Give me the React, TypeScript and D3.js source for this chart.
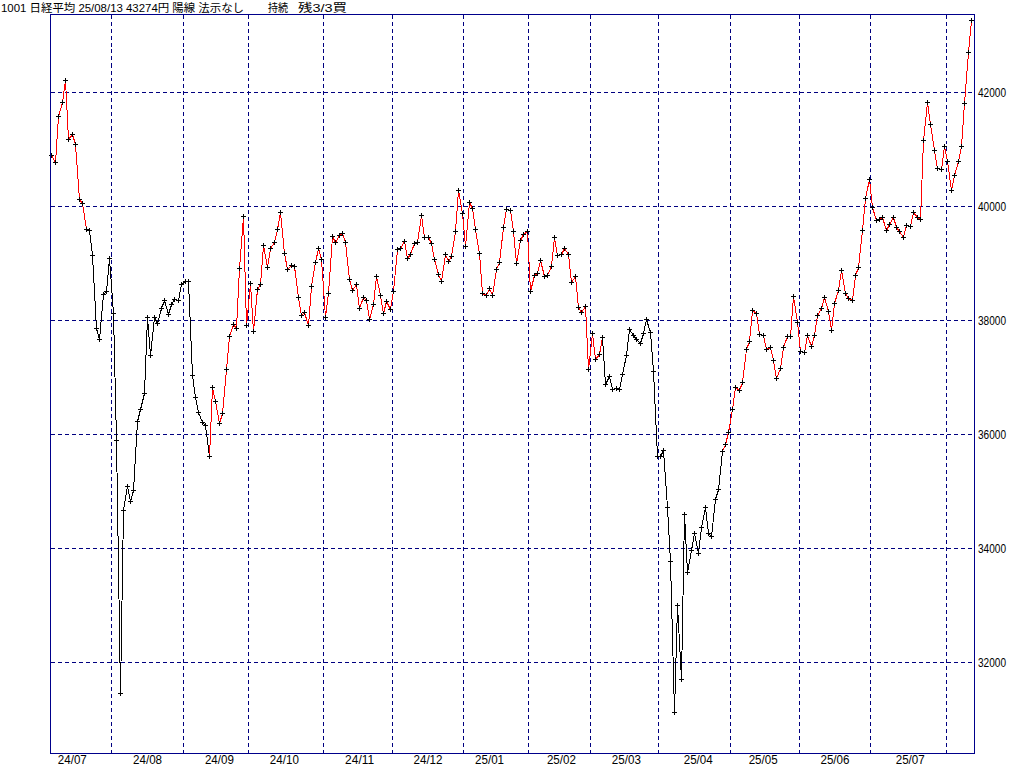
import React from "react";
import * as d3 from "d3";

// Trading days per month (label, days)
const monthLabels = ["24/07","24/08","24/09","24/10","24/11","24/12","25/01","25/02","25/03","25/04","25/05","25/06","25/07","25/08"];
const monthDays = [
  [5,8,9,10,11,12,16,17,18,19,22,23,24,25,26,29,30,31],
  [1,2,5,6,7,8,9,13,14,15,16,19,20,21,22,23,26,27,28,29,30],
  [2,3,4,5,6,9,10,11,12,13,17,18,19,20,24,25,26,27,30],
  [1,2,3,4,7,8,9,10,11,15,16,17,18,21,22,23,24,25,28,29,30,31],
  [1,5,6,7,8,11,12,13,14,15,18,19,20,21,22,25,26,27,28,29],
  [2,3,4,5,6,9,10,11,12,13,16,17,18,19,20,23,24,25,26,27,30],
  [6,7,8,9,10,14,15,16,17,20,21,22,23,24,27,28,29,30,31],
  [3,4,5,6,7,10,12,13,14,17,18,19,20,21,25,26,27,28],
  [3,4,5,6,7,10,11,12,13,14,17,18,19,21,24,25,26,27,28,31],
  [1,2,3,4,7,8,9,10,11,14,15,16,17,18,21,22,23,24,25,28,30],
  [1,2,7,8,9,12,13,14,15,16,19,20,21,22,23,26,27,28,29,30],
  [2,3,4,5,6,9,10,11,12,13,16,17,18,19,20,23,24,25,26,27,30],
  [1,2,3,4,7,8,9,10,11,14,15,16,17,18,22,23,24,25,28,29,30,31],
  [1,4,5,6,7,8,12,13],
];

// Closing prices per month
const closesByMonth = [
  [40912,40780,41580,41831,42224,41190,41275,41098,40126,40063,39599,39594,39155,37869,37667,38468,38526,39102],
  [38126,35910,31458,34675,35089,34831,35025,36232,36442,36726,38062,37389,38063,37951,38211,38364,38110,38288,38371,38362,38647],
  [38700,38686,37047,36657,36391,36215,36159,35619,36833,36581,36203,36380,37155,37723,37940,37870,38925,39829,37919],
  [38651,37808,38552,38635,39332,38937,39277,39380,39605,39910,39180,38911,38981,38954,38411,38104,38143,37913,38605,39027,39277,39081],
  [38053,38474,39480,39381,39500,39533,39376,38721,38535,38642,38220,38414,38352,38026,38283,38780,38442,38134,38349,38208],
  [38513,39248,39276,39395,39091,39160,39367,39372,39849,39470,39457,39364,39081,38813,38701,39161,39036,39130,39568,40281,39894],
  [39307,40083,39981,39605,39190,38474,38444,38572,38451,38902,39027,39646,39958,39931,39565,39016,39414,39513,39572],
  [38520,38798,38831,39066,38787,38801,38963,39461,39149,39174,39270,39164,38678,38776,38237,38142,38256,37155],
  [37785,37331,37418,37704,36887,37028,36793,36819,36790,37053,37396,37845,37751,37677,37608,37780,38027,37799,37120,35617],
  [35624,35725,34735,33780,31136,33012,31714,34609,33585,33982,34267,33920,34377,34730,34280,34220,34868,35039,35705,35839,36045],
  [36452,36830,36780,36928,37503,37644,38183,38128,37755,37753,37498,37529,37299,36985,37160,37531,37724,37722,38432,37965],
  [37470,37446,37747,37554,37741,38088,38211,38421,38173,37834,38311,38536,38885,38488,38403,38354,38790,38942,39584,40150,40487],
  [39986,39762,39785,39810,39587,39688,39821,39646,39570,39459,39679,39663,39901,39819,39774,41171,41826,41456,40998,40674,40654,41069],
  [40800,40290,40549,40794,41059,41820,42718,43274],
];

// Signal state changes (buy = red line, sell = black line)
const signalDates = ["24/07/05","24/07/24","24/09/12","25/03/07","25/04/28"];
const signalSides = ["buy","sell","buy","sell","buy"];

const yTicks = [32000,34000,36000,38000,40000,42000];
const titleParts = ["1001 日経平均 25/08/13 43274円 陽線 法示なし", "持続", "残3/3買"];

const W = 1024, H = 767;
const GRID = "#000080";
const FRAME = "#00008b";
const FONT = "'Liberation Sans','Noto Sans CJK JP',sans-serif";

export default function App() {
  const pad = (d: number) => (d < 10 ? "0" + d : "" + d);
  const dates: string[] = [];
  const values: number[] = [];
  const monthFirstIdx: number[] = [];
  const monthMidIdx: number[] = [];
  monthLabels.forEach((m, mi) => {
    monthFirstIdx.push(dates.length);
    const days = monthDays[mi];
    const mid = days.findIndex((d) => d >= 16);
    monthMidIdx.push(mid >= 0 ? dates.length + mid : -1);
    days.forEach((d, di) => {
      dates.push(`${m}/${pad(d)}`);
      values.push(closesByMonth[mi][di]);
    });
  });
  const n = values.length;

  const x = d3.scaleLinear().domain([0, n - 1]).range([51.3, 971.3]);
  const y = d3.scaleLinear().domain([32000, 42000]).range([662.5, 92.5]);

  const left = 50.5, right = 974.5, top = 14.5, bottom = 753.5;

  const state = dates.map((dt) => {
    let s = signalSides[0];
    signalDates.forEach((sd, k) => {
      if (dt >= sd) s = signalSides[k];
    });
    return s;
  });

  // Group line segments by color
  const runs: { color: string; idx: number[] }[] = [];
  for (let i = 1; i < n; i++) {
    const color = state[i] === "buy" ? "#ff0000" : "#000000";
    const last = runs[runs.length - 1];
    if (last && last.color === color) last.idx.push(i);
    else runs.push({ color, idx: [i - 1, i] });
  }
  const line = d3
    .line<number>()
    .x((i) => Math.round(x(i)) + 0.5)
    .y((i) => Math.round(y(values[i])) + 0.5);

  const rx = (v: number) => Math.round(v) + 0.5;

  return (
    <svg
      width={W}
      height={H}
      style={{ position: "absolute", left: 0, top: 0, background: "#fff" }}
      fontFamily={FONT}
    >
      <rect x={0} y={0} width={W} height={H} fill="#fff" />
      {/* horizontal grid */}
      {yTicks.map((t) => (
        <line
          key={"h" + t}
          x1={left}
          x2={right}
          y1={rx(y(t) - 0.5)}
          y2={rx(y(t) - 0.5)}
          stroke={GRID}
          strokeDasharray="4,3"
          shapeRendering="crispEdges"
        />
      ))}
      {/* vertical month grid */}
      {monthFirstIdx.slice(1).map((fi, k) => {
        const gx = rx(x(fi - 0.5));
        return (
          <line
            key={"v" + k}
            x1={gx}
            x2={gx}
            y1={top}
            y2={bottom}
            stroke={GRID}
            strokeDasharray="4,3"
            shapeRendering="crispEdges"
          />
        );
      })}
      {/* price line */}
      {runs.map((r, k) => (
        <path
          key={"l" + k}
          d={line(r.idx) || ""}
          fill="none"
          stroke={r.color}
          strokeWidth={1}
          shapeRendering="crispEdges"
        />
      ))}
      {/* markers */}
      <path
        d={values
          .map((v, i) => {
            const px = rx(x(i));
            const py = rx(y(v));
            return `M${px - 2.5},${py}h5M${px},${py - 2.5}v5`;
          })
          .join("")}
        stroke="#000"
        strokeWidth={1}
        fill="none"
        shapeRendering="crispEdges"
      />
      {/* frame */}
      <rect
        x={left}
        y={top}
        width={right - left}
        height={bottom - top}
        fill="none"
        stroke={FRAME}
        strokeWidth={1}
        shapeRendering="crispEdges"
      />
      {/* y labels */}
      {yTicks.map((t) => (
        <text
          key={"yl" + t}
          x={978}
          y={y(t) + 4.5}
          fontSize={12}
          fill="#000"
          textLength={28}
          lengthAdjust="spacingAndGlyphs"
        >
          {t}
        </text>
      ))}
      {/* x labels */}
      {monthLabels.map((m, k) =>
        monthMidIdx[k] >= 0 ? (
          <text
            key={"xl" + m}
            x={x(monthMidIdx[k]) + 0.5}
            y={764}
            fontSize={12}
            fill="#000"
            textAnchor="middle"
            textLength={29}
            lengthAdjust="spacingAndGlyphs"
          >
            {m}
          </text>
        ) : null
      )}
      {/* title */}
      <text x={1} y={12} fontSize={11.5} fill="#000" textLength={243} lengthAdjust="spacingAndGlyphs" style={{ whiteSpace: "pre" }}>
        {titleParts[0]}
      </text>
      <text x={268} y={12} fontSize={11.5} fill="#000" textLength={20} lengthAdjust="spacingAndGlyphs">
        {titleParts[1]}
      </text>
      <text x={298} y={12} fontSize={11.5} fill="#000" textLength={49} lengthAdjust="spacingAndGlyphs">
        {titleParts[2]}
      </text>
    </svg>
  );
}
